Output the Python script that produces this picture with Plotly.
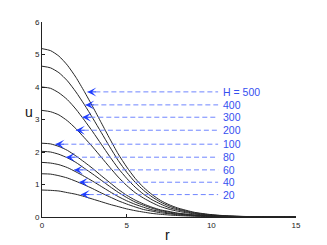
import plotly.graph_objects as go

r_vals = [0, 0.5, 1, 1.5, 2, 2.5, 3, 3.5, 4, 4.5, 5, 5.5, 6, 6.5, 7, 7.5, 8,
          9, 10, 11, 12, 13, 14, 15]

u_500 = [5.18, 5.12, 4.95, 4.67, 4.30, 3.86, 3.39, 2.90, 2.41, 1.94, 1.54, 1.19, 0.91, 0.69, 0.51, 0.38, 0.28,
         0.145, 0.073, 0.034, 0.016, 0.006, 0.003, 0.001]
u_400 = [4.64, 4.59, 4.44, 4.19, 3.85, 3.46, 3.04, 2.60, 2.16, 1.74, 1.38, 1.07, 0.82, 0.62, 0.46, 0.34, 0.25,
         0.13, 0.065, 0.030, 0.014, 0.006, 0.002, 0.001]
u_300 = [4.00, 3.96, 3.82, 3.61, 3.32, 2.98, 2.62, 2.24, 1.86, 1.50, 1.19, 0.92, 0.70, 0.53, 0.40, 0.29, 0.22,
         0.11, 0.056, 0.026, 0.012, 0.005, 0.002, 0.001]
u_200 = [3.28, 3.24, 3.14, 2.96, 2.72, 2.44, 2.15, 1.84, 1.53, 1.23, 0.97, 0.75, 0.58, 0.44, 0.32, 0.24, 0.18,
         0.092, 0.046, 0.021, 0.010, 0.004, 0.002, 0.001]
u_100 = [2.27, 2.25, 2.17, 2.05, 1.88, 1.69, 1.49, 1.27, 1.06, 0.85, 0.67, 0.52, 0.40, 0.30, 0.22, 0.17, 0.12,
         0.064, 0.032, 0.015, 0.007, 0.003, 0.001, 0.0]
u_80 = [2.02, 2.00, 1.93, 1.82, 1.68, 1.50, 1.32, 1.13, 0.94, 0.76, 0.60, 0.46, 0.36, 0.27, 0.20, 0.15, 0.11,
        0.057, 0.028, 0.013, 0.006, 0.002, 0.001, 0.0]
u_60 = [1.68, 1.66, 1.61, 1.52, 1.39, 1.25, 1.10, 0.94, 0.78, 0.63, 0.50, 0.39, 0.30, 0.22, 0.17, 0.12, 0.09,
        0.047, 0.024, 0.011, 0.005, 0.002, 0.001, 0.0]
u_40 = [1.33, 1.32, 1.27, 1.20, 1.10, 0.99, 0.87, 0.74, 0.62, 0.50, 0.40, 0.31, 0.23, 0.18, 0.13, 0.10, 0.07,
        0.037, 0.019, 0.009, 0.004, 0.002, 0.001, 0.0]
u_20 = [0.83, 0.82, 0.80, 0.75, 0.70, 0.63, 0.55, 0.47, 0.39, 0.32, 0.25, 0.195, 0.15, 0.11, 0.083, 0.062, 0.045,
        0.024, 0.012, 0.006, 0.002, 0.001, 0.0, 0.0]

curves = [u_500, u_400, u_300, u_200, u_100, u_80, u_60, u_40, u_20]

# arrow annotations: label, arrow tip r, level u
labels = ["H = 500", "400", "300", "200", "100", "80", "60", "40", "20"]
arrow_r = [2.68, 2.56, 2.38, 2.0, 0.79, 1.42, 1.89, 2.19, 2.29]
arrow_u = [3.85, 3.45, 3.07, 2.67, 2.24, 1.84, 1.45, 1.07, 0.69]
label_r = 10.55
line_end_r = 10.4

x_ticks = [0, 5, 10, 15]
y_ticks = [0, 1, 2, 3, 4, 5, 6]

FONT = "Liberation Sans, Arial, sans-serif"

fig = go.Figure()

for u in curves:
    fig.add_trace(go.Scatter(x=r_vals, y=u, mode="lines",
                             line=dict(color="#262626", width=1, shape="spline", smoothing=0.6),
                             showlegend=False, hoverinfo="skip"))

for lab, ar, au in zip(labels, arrow_r, arrow_u):
    fig.add_trace(go.Scatter(x=[ar, line_end_r], y=[au, au], mode="lines",
                             line=dict(color="#6f85ff", width=1, dash="5px,3px"),
                             showlegend=False, hoverinfo="skip"))
    fig.add_annotation(x=ar, y=au, xref="x", yref="y", text="", showarrow=True,
                       ax=10, ay=0, arrowhead=3, arrowsize=1.5, arrowwidth=1,
                       arrowcolor="#1f3dff", standoff=0)
    fig.add_annotation(x=label_r, y=au, xref="x", yref="y", text=lab, showarrow=False,
                       xanchor="left", yanchor="middle",
                       font=dict(family=FONT, size=10.5, color="#3550f0"))

fig.add_annotation(x=-0.053, y=0.54, xref="paper", yref="paper", text="u", showarrow=False,
                   xanchor="center", yanchor="middle",
                   font=dict(family=FONT, size=14, color="#111111"))
fig.add_annotation(x=0.496, y=-0.09, xref="paper", yref="paper", text="r", showarrow=False,
                   xanchor="center", yanchor="middle",
                   font=dict(family=FONT, size=14, color="#111111"))

axis_common = dict(showgrid=False, zeroline=False, showline=True, linecolor="#222222",
                   linewidth=1, ticks="inside", ticklen=3, tickcolor="#222222",
                   tickfont=dict(family=FONT, size=8, color="#222222"))

fig.update_xaxes(range=[0, 15], tickvals=x_ticks, **axis_common)
fig.update_yaxes(range=[0, 6], tickvals=y_ticks, **axis_common)

# the page body adds an 8px margin, so the figure is sized to fit inside it
fig.update_layout(width=319, height=237, margin=dict(l=34, r=31, t=10, b=28),
                  plot_bgcolor="white", paper_bgcolor="white")

fig.write_html("out.html")
